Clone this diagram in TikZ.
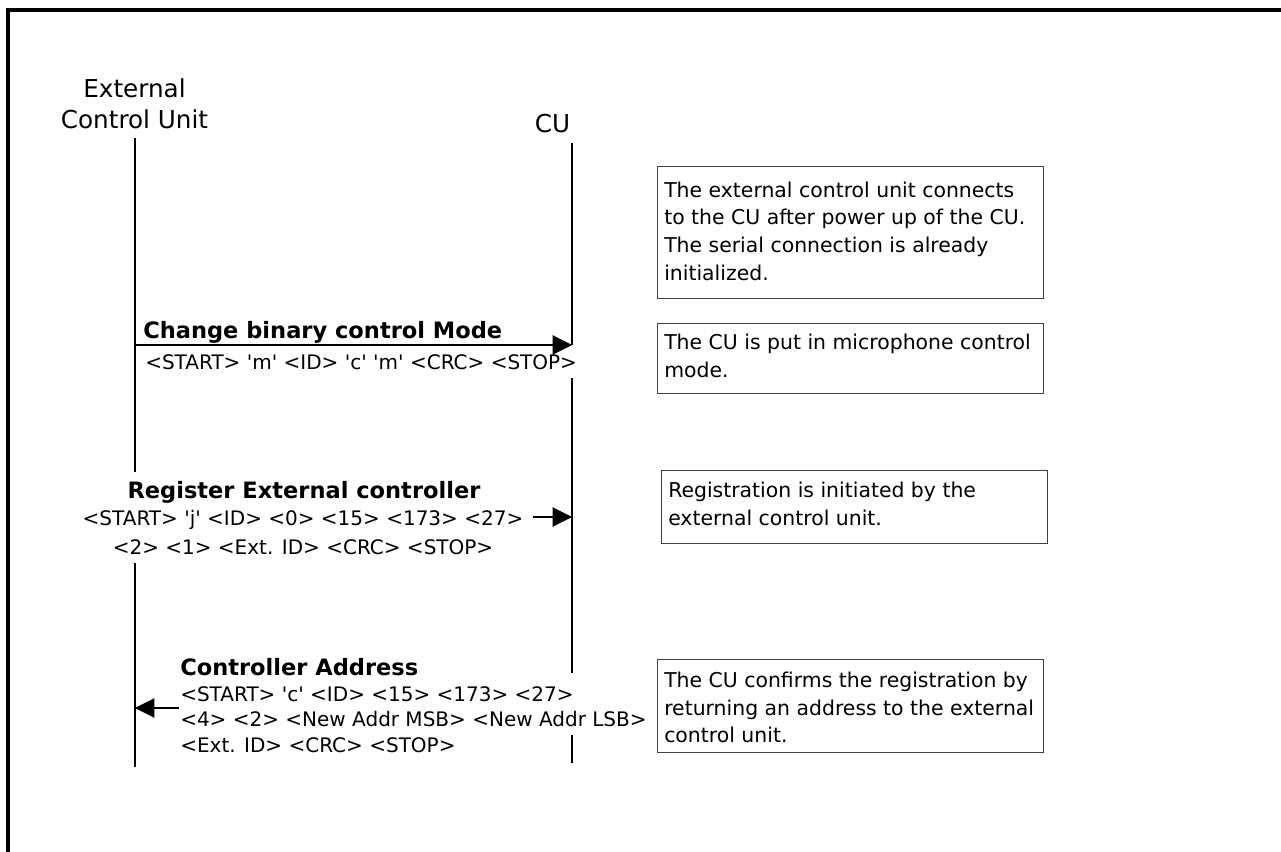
\documentclass[tikz,border=0pt]{standalone}
\usepackage{fontspec}
\newfontfamily\dejavu[Ligatures=TeXOff]{DejaVu Sans}
\usetikzlibrary{arrows.meta}
\newcommand\tstrut[1]{\rule{0pt}{#1}}

\begin{document}
\begin{tikzpicture}[x=0.75pt,y=-0.75pt,
  headtxt/.style={font=\dejavu\fontsize{18.5}{23.25}\selectfont, inner sep=0pt},
  msgtitle/.style={font=\dejavu\bfseries\fontsize{16.9}{20}\selectfont, inner sep=0pt},
  msgtxt/.style={font=\dejavu\fontsize{15}{21.75}\selectfont, inner sep=0pt},
  notetxt/.style={font=\dejavu\fontsize{15.3}{20.8}\selectfont, inner sep=0pt, align=left, anchor=north west},
  notebox/.style={draw=black!75, line width=0.8pt, inner sep=0pt, anchor=north west, minimum width=289.5pt},
  life/.style={line width=0.8pt},
  msg/.style={line width=0.8pt, -{Triangle[length=14.5pt,width=14.5pt]}},
  frame/.style={line width=3pt, line join=miter}
]
\useasboundingbox (0,0) rectangle (1281,852);

% outer frame (left and top edges only)
\draw[frame] (8,852) -- (8,10.3) -- (1281,10.3);

% participants
\node[headtxt, align=center, anchor=north] (ext) at (134.5,78.3) {\tstrut{14pt}External\\Control Unit};
\node[headtxt, anchor=base] (cu) at (552.5,133) {CU};

% lifeline end points
\coordinate (L1a) at (135,138);
\coordinate (L1b) at (135,472);
\coordinate (L2a) at (135,563);
\coordinate (L2b) at (135,767);
\coordinate (C1a) at (572,143);
\coordinate (C1b) at (572,345);
\coordinate (C2a) at (572,378);
\coordinate (C2b) at (572,673);
\coordinate (C3a) at (572,735);
\coordinate (C3b) at (572,763);

\draw[life] (L1a) -- (L1b);
\draw[life] (L2a) -- (L2b);
\draw[life] (C1a) -- (C1b);
\draw[life] (C2a) -- (C2b);
\draw[life] (C3a) -- (C3b);

% message 1
\node[msgtitle, anchor=base west] (t1) at (143,338) {Change binary control Mode};
\node[msgtxt, anchor=base west] (p1) at (145,369) {<START> 'm' <ID> 'c' 'm' <CRC> <STOP>};
\coordinate (m1s) at (135,345);
\coordinate (m1e) at (572,345);
\draw[msg] (m1s) -- (m1e);

% message 2
\node[msgtitle, anchor=base] (t2) at (304,498) {Register External controller};
\node[msgtxt, align=center, anchor=north] (p2) at (303,509.7)
  {\tstrut{11.5pt}<START> 'j' <ID> <0> <15> <173> <27>\\<2> <1> <Ext. ID> <CRC> <STOP>};
\coordinate (m2s) at (533,517);
\coordinate (m2e) at (572,517);
\draw[msg] (m2s) -- (m2e);

% message 3
\node[msgtitle, anchor=base west] (t3) at (180,675) {Controller Address};
\node[msgtxt, font=\dejavu\fontsize{15}{19.1}\selectfont, align=left, anchor=north west] (p3) at (180,685.7)
  {\tstrut{11.5pt}<START> 'c' <ID> <15> <173> <27>\\<4> <2> <New Addr MSB> <New Addr LSB>\\<Ext. ID> <CRC> <STOP>};
\coordinate (m3s) at (179,708);
\coordinate (m3e) at (135,708);
\draw[msg] (m3s) -- (m3e);

% notes
\node[notebox, minimum height=99pt] (n1) at (657,166) {};
\node[notetxt] (q1) at (664,181) {\tstrut{12pt}The external control unit connects\\to the CU after power up of the CU.\\The serial connection is already\\initialized.};

\node[notebox, minimum height=52.5pt] (n2) at (657,323) {};
\node[notetxt] (q2) at (664,333) {\tstrut{12pt}The CU is put in microphone control\\mode.};

\node[notebox, minimum height=54.75pt] (n3) at (661,470) {};
\node[notetxt] (q3) at (668,481) {\tstrut{12pt}Registration is initiated by the\\external control unit.};

\node[notebox, minimum height=69.75pt] (n4) at (657,659) {};
\node[notetxt] (q4) at (664,671) {\tstrut{12pt}The CU confirms the registration by\\returning an address to the external\\control unit.};
\end{tikzpicture}
\end{document}
